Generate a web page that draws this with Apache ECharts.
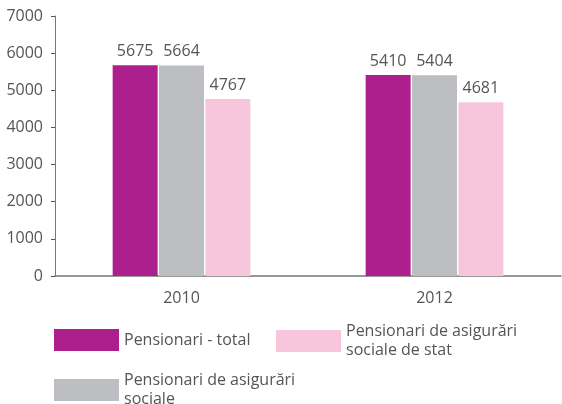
<!DOCTYPE html>
<html>
<head>
<meta charset="utf-8">
<script src="https://cdn.jsdelivr.net/npm/echarts@6/dist/echarts.min.js"></script>
<style>
  html, body { margin: 0; padding: 0; background: #fff; }
  #chart { width: 562px; height: 404px; }
</style>
</head>
<body>
<div id="chart"></div>
<script>
// data
const years = ['2010', '2012']
const seriesNames = [
  'Pensionari - total',
  'Pensionari de asigurări\nsociale',
  'Pensionari de asigurări\nsociale de stat'
]
const totalValues = [5675, 5410]
const socialValues = [5664, 5404]
const stateValues = [4767, 4681]
const colors = ['#ad1f8d', '#bdbec1', '#f7c6dc']

const font = 'Open Sans'
const textColor = '#555'

let myChart = echarts.init(document.getElementById('chart'))

function makeSeries(name, data, color) {
  return {
    name: name,
    type: 'bar',
    data: data,
    barWidth: 45,
    barGap: '3%',
    itemStyle: { color: color },
    label: {
      show: true,
      position: 'top',
      distance: 6,
      color: textColor,
      fontSize: 16,
      fontFamily: font
    }
  }
}

function makeLegend(name, left, top) {
  return {
    data: [name],
    left: left,
    top: top,
    padding: 0,
    icon: 'rect',
    itemWidth: 65,
    itemHeight: 22,
    selectedMode: false,
    textStyle: { color: textColor, fontSize: 16, fontFamily: font, lineHeight: 19 }
  }
}

let option = {
  animation: false,
  backgroundColor: '#fff',
  grid: { left: 55, right: 1, top: 16, bottom: 128 },
  legend: [
    makeLegend(seriesNames[0], 54, 329),
    makeLegend(seriesNames[2], 276, 322),
    makeLegend(seriesNames[1], 54, 371)
  ],
  xAxis: {
    type: 'category',
    data: years,
    axisLine: { lineStyle: { color: '#777', width: 1.5 } },
    axisTick: { inside: true, length: 6, lineStyle: { color: '#555' } },
    axisLabel: { margin: 14, color: textColor, fontSize: 16, fontFamily: font }
  },
  yAxis: {
    type: 'value',
    min: 0,
    max: 7000,
    interval: 1000,
    splitLine: { show: false },
    axisLine: { show: true, lineStyle: { color: '#777', width: 1 } },
    axisTick: { show: true, length: 4, lineStyle: { color: '#555' } },
    axisLabel: {
      margin: 12,
      color: textColor,
      fontSize: 16,
      fontFamily: font,
      formatter: function (v) { return String(v) }
    }
  },
  series: [
    makeSeries(seriesNames[0], totalValues, colors[0]),
    makeSeries(seriesNames[1], socialValues, colors[1]),
    makeSeries(seriesNames[2], stateValues, colors[2])
  ]
}

myChart.setOption(option)
</script>
</body>
</html>
